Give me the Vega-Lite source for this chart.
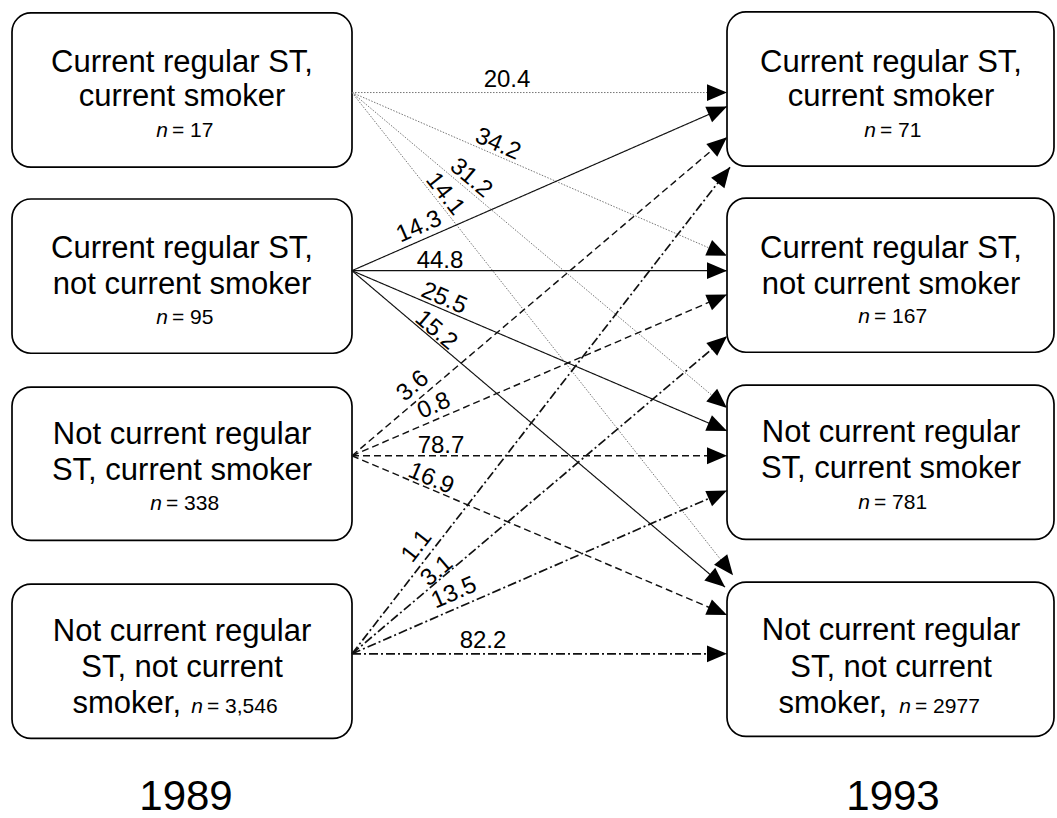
{
  "$schema": "https://vega.github.io/schema/vega-lite/v6.json",
  "width": 1057,
  "height": 818,
  "autosize": {"type": "fit", "contains": "padding"},
  "padding": 0,
  "background": "white",
  "config": {"view": {"stroke": null}, "text": {"font": "Liberation Sans"}},
  "datasets": {
    "boxes": [
      {"id": "L1", "x": 12, "x2": 352, "y": 13, "y2": 168},
      {"id": "L2", "x": 12, "x2": 352, "y": 200, "y2": 355},
      {"id": "L3", "x": 12, "x2": 352, "y": 389, "y2": 543},
      {"id": "L4", "x": 12, "x2": 352, "y": 587, "y2": 742},
      {"id": "R1", "x": 727, "x2": 1054, "y": 12, "y2": 167},
      {"id": "R2", "x": 727, "x2": 1054, "y": 199, "y2": 354},
      {"id": "R3", "x": 727, "x2": 1054, "y": 387, "y2": 542},
      {"id": "R4", "x": 727, "x2": 1054, "y": 585, "y2": 740}
    ],
    "flows": [
      {"from": "L1", "to": "R1", "style": "dotted", "sx": 352, "sy": 93, "tx": 727, "ty": 93, "label": "20.4", "lx": 507, "ly": 80},
      {"from": "L1", "to": "R2", "style": "dotted", "sx": 352, "sy": 93, "tx": 727, "ty": 257, "label": "34.2", "lx": 498, "ly": 145},
      {"from": "L1", "to": "R3", "style": "dotted", "sx": 352, "sy": 93, "tx": 727, "ty": 410, "label": "31.2", "lx": 471, "ly": 179},
      {"from": "L1", "to": "R4", "style": "dotted", "sx": 352, "sy": 93, "tx": 733, "ty": 578, "label": "14.1", "lx": 445, "ly": 195},
      {"from": "L2", "to": "R1", "style": "solid", "sx": 352, "sy": 272, "tx": 727, "ty": 107, "label": "14.3", "lx": 419, "ly": 228},
      {"from": "L2", "to": "R2", "style": "solid", "sx": 352, "sy": 272, "tx": 727, "ty": 272, "label": "44.8", "lx": 440, "ly": 262},
      {"from": "L2", "to": "R3", "style": "solid", "sx": 352, "sy": 272, "tx": 727, "ty": 433, "label": "25.5", "lx": 444, "ly": 300},
      {"from": "L2", "to": "R4", "style": "solid", "sx": 352, "sy": 272, "tx": 725, "ty": 590, "label": "15.2", "lx": 436, "ly": 332},
      {"from": "L3", "to": "R1", "style": "dashed", "sx": 352, "sy": 458, "tx": 727, "ty": 138, "label": "3.6", "lx": 413, "ly": 388},
      {"from": "L3", "to": "R2", "style": "dashed", "sx": 352, "sy": 458, "tx": 727, "ty": 296, "label": "0.8", "lx": 434, "ly": 408},
      {"from": "L3", "to": "R3", "style": "dashed", "sx": 352, "sy": 458, "tx": 727, "ty": 458, "label": "78.7", "lx": 441, "ly": 448},
      {"from": "L3", "to": "R4", "style": "dashed", "sx": 352, "sy": 458, "tx": 727, "ty": 618, "label": "16.9", "lx": 431, "ly": 481},
      {"from": "L4", "to": "R1", "style": "dashdot", "sx": 352, "sy": 657, "tx": 730, "ty": 168, "label": "1.1", "lx": 417, "ly": 549},
      {"from": "L4", "to": "R2", "style": "dashdot", "sx": 352, "sy": 657, "tx": 727, "ty": 338, "label": "3.1", "lx": 437, "ly": 574},
      {"from": "L4", "to": "R3", "style": "dashdot", "sx": 352, "sy": 657, "tx": 727, "ty": 493, "label": "13.5", "lx": 454, "ly": 596},
      {"from": "L4", "to": "R4", "style": "dashdot", "sx": 352, "sy": 657, "tx": 727, "ty": 657, "label": "82.2", "lx": 483, "ly": 644}
    ],
    "lines": [
      {"box": "L1", "x": 182, "y": 72, "text": "Current regular ST,"},
      {"box": "L1", "x": 182, "y": 107, "text": "current smoker"},
      {"box": "L2", "x": 182, "y": 259, "text": "Current regular ST,"},
      {"box": "L2", "x": 182, "y": 295, "text": "not current smoker"},
      {"box": "L3", "x": 182, "y": 446, "text": "Not current regular"},
      {"box": "L3", "x": 182, "y": 482, "text": "ST, current smoker"},
      {"box": "L4", "x": 182, "y": 644, "text": "Not current regular"},
      {"box": "L4", "x": 182, "y": 680, "text": "ST, not current"},
      {"box": "R1", "x": 891, "y": 72, "text": "Current regular ST,"},
      {"box": "R1", "x": 891, "y": 107, "text": "current smoker"},
      {"box": "R2", "x": 891, "y": 259, "text": "Current regular ST,"},
      {"box": "R2", "x": 891, "y": 295, "text": "not current smoker"},
      {"box": "R3", "x": 891, "y": 444, "text": "Not current regular"},
      {"box": "R3", "x": 891, "y": 480, "text": "ST, current smoker"},
      {"box": "R4", "x": 891, "y": 643, "text": "Not current regular"},
      {"box": "R4", "x": 891, "y": 680, "text": "ST, not current"}
    ],
    "tails": [
      {"box": "L4", "x": 181, "y": 717, "text": "smoker,"},
      {"box": "R4", "x": 887, "y": 717, "text": "smoker,"}
    ],
    "counts": [
      {"box": "L1", "nx": 168, "vx": 172, "y": 138, "value": "= 17"},
      {"box": "L2", "nx": 168, "vx": 172, "y": 326, "value": "= 95"},
      {"box": "L3", "nx": 162, "vx": 166, "y": 513, "value": "= 338"},
      {"box": "L4", "nx": 203, "vx": 207, "y": 717, "value": "= 3,546"},
      {"box": "R1", "nx": 876, "vx": 880, "y": 138, "value": "= 71"},
      {"box": "R2", "nx": 870, "vx": 874, "y": 325, "value": "= 167"},
      {"box": "R3", "nx": 870, "vx": 874, "y": 511, "value": "= 781"},
      {"box": "R4", "nx": 911, "vx": 915, "y": 717, "value": "= 2977"}
    ],
    "years": [
      {"x": 186, "y": 814, "year": "1989"},
      {"x": 893, "y": 814, "year": "1993"}
    ]
  },
  "layer": [
    {
      "data": {"name": "boxes"},
      "mark": {"type": "rect", "cornerRadius": 19, "fill": "white", "stroke": "black", "strokeWidth": 1.7},
      "encoding": {
        "x": {"field": "x", "type": "quantitative", "scale": {"domain": [0, 1057], "nice": false, "zero": false}, "axis": null},
        "x2": {"field": "x2"},
        "y": {"field": "y", "type": "quantitative", "scale": {"domain": [0, 818], "nice": false, "zero": false, "reverse": true}, "axis": null},
        "y2": {"field": "y2"}
      }
    },
    {
      "data": {"name": "flows"},
      "mark": {"type": "rule"},
      "encoding": {
        "x": {"field": "sx", "type": "quantitative"},
        "y": {"field": "sy", "type": "quantitative"},
        "x2": {"field": "tx"},
        "y2": {"field": "ty"},
        "color": {"field": "style", "type": "nominal", "legend": null, "scale": {"domain": ["dotted", "solid", "dashed", "dashdot"], "range": ["#666666", "#111111", "#111111", "#111111"]}},
        "strokeWidth": {"field": "style", "type": "nominal", "legend": null, "scale": {"domain": ["dotted", "solid", "dashed", "dashdot"], "range": [0.9, 1.7, 1.4, 1.3]}},
        "strokeDash": {"field": "style", "type": "nominal", "legend": null, "scale": {"domain": ["dotted", "solid", "dashed", "dashdot"], "range": [[1.5, 1.5], [1, 0], [7, 4], [9, 3, 2, 3]]}}
      }
    },
    {
      "data": {"name": "flows"},
      "transform": [{"calculate": "atan2(datum.ty - datum.sy, datum.tx - datum.sx) * 180 / PI", "as": "ang"}],
      "mark": {"type": "point", "shape": "M0,0L-1,-0.42L-1,0.42Z", "filled": true, "size": 1600, "color": "black", "opacity": 1},
      "encoding": {
        "x": {"field": "tx", "type": "quantitative"},
        "y": {"field": "ty", "type": "quantitative"},
        "angle": {"field": "ang", "type": "quantitative", "scale": null}
      }
    },
    {
      "data": {"name": "flows"},
      "transform": [{"calculate": "atan2(datum.ty - datum.sy, datum.tx - datum.sx) * 180 / PI", "as": "ang"}],
      "mark": {"type": "text", "fontSize": 24, "align": "center", "baseline": "middle", "color": "black"},
      "encoding": {
        "x": {"field": "lx", "type": "quantitative"},
        "y": {"field": "ly", "type": "quantitative"},
        "text": {"field": "label"},
        "angle": {"field": "ang", "type": "quantitative", "scale": null}
      }
    },
    {
      "data": {"name": "lines"},
      "mark": {"type": "text", "fontSize": 31, "align": "center", "baseline": "alphabetic", "color": "black"},
      "encoding": {
        "x": {"field": "x", "type": "quantitative"},
        "y": {"field": "y", "type": "quantitative"},
        "text": {"field": "text"}
      }
    },
    {
      "data": {"name": "tails"},
      "mark": {"type": "text", "fontSize": 31, "align": "right", "baseline": "alphabetic", "color": "black"},
      "encoding": {
        "x": {"field": "x", "type": "quantitative"},
        "y": {"field": "y", "type": "quantitative"},
        "text": {"field": "text"}
      }
    },
    {
      "data": {"name": "counts"},
      "mark": {"type": "text", "fontSize": 21, "fontStyle": "italic", "align": "right", "baseline": "alphabetic", "color": "black", "text": "n"},
      "encoding": {
        "x": {"field": "nx", "type": "quantitative"},
        "y": {"field": "y", "type": "quantitative"}
      }
    },
    {
      "data": {"name": "counts"},
      "mark": {"type": "text", "fontSize": 21, "align": "left", "baseline": "alphabetic", "color": "black"},
      "encoding": {
        "x": {"field": "vx", "type": "quantitative"},
        "y": {"field": "y", "type": "quantitative"},
        "text": {"field": "value"}
      }
    },
    {
      "data": {"name": "years"},
      "mark": {"type": "text", "fontSize": 42, "align": "center", "baseline": "alphabetic", "color": "black"},
      "encoding": {
        "x": {"field": "x", "type": "quantitative"},
        "y": {"field": "y", "type": "quantitative"},
        "text": {"field": "year"}
      }
    }
  ]
}
